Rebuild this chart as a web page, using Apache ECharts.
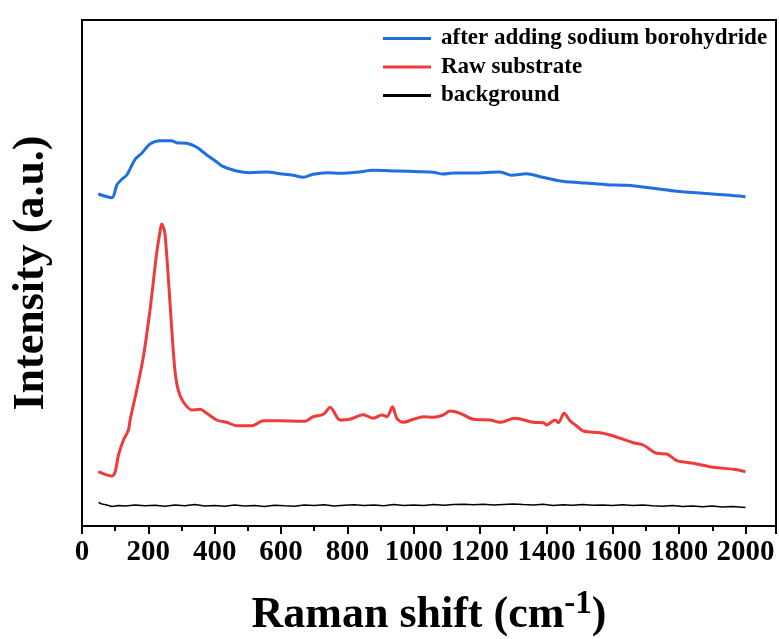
<!DOCTYPE html>
<html><head><meta charset="utf-8">
<script src="https://cdn.jsdelivr.net/npm/echarts@6/dist/echarts.min.js"></script>
<style>html,body{margin:0;padding:0;background:#fff}#c{width:779px;height:639px}</style>
</head><body><div id="c"></div>
<script>
// Raman shift (cm-1) and intensity (a.u.) pairs
const seriesNames = ['after adding sodium borohydride', 'Raw substrate', 'background'];
const xTicks = [0, 200, 400, 600, 800, 1000, 1200, 1400, 1600, 1800, 2000];

const blueX = [49,90,105,120,135,160,180,205,235,270,285,316,346,376,401,426,466,506,557,597,637,667,697,738,778,828,878,949,1019,1059,1089,1119,1180,1260,1295,1340,1381,1441,1501,1582,1642,1722,1793,1873,1944,2000];
const blueY = [332,328.3,341,346.7,351,366.7,372.7,382,385.3,385.3,383.3,382.7,378.7,371,365.3,359.3,355,353.3,354,352.3,350.7,348.7,351.7,353.3,352.7,353.7,355.7,355,354.3,353.7,352,353,353,354,350.7,352.3,349.3,345,343.3,341.3,340.7,337.7,334.7,332.7,331,329.3];

const redX = [49,90,100,110,125,140,145,165,185,205,225,235,240,245,250,260,270,280,290,305,331,356,376,406,436,466,512,547,597,672,697,728,748,778,808,848,878,904,919,936,949,969,999,1029,1059,1089,1109,1140,1180,1230,1260,1305,1361,1391,1401,1426,1436,1453,1471,1491,1511,1562,1592,1632,1662,1692,1732,1763,1793,1843,1903,1964,2000];
const redY = [54.3,50,54.3,71,86,96,106,136,169.3,216,272.7,294,302,299,292.7,249.3,199.3,156,136,124.3,116,116.7,112.7,106,103.7,100.3,100.3,105.3,105.3,104.7,109.3,111.7,118.7,106,106.7,111.3,107.7,111,109.3,119.3,107.7,103.7,106.7,109.3,108.7,111,115,112.7,106.7,106,103.7,107.7,103.7,103.3,101,106,103.3,112.7,105.3,100,95,93.3,91,86.7,83.3,81,72.7,72,65.3,62.7,58.7,56.7,54.3];

const blackX = [50,60,75,90,110,130,160,190,220,250,280,310,340,370,400,430,460,490,520,550,580,610,640,670,700,730,760,790,820,850,880,910,940,970,1000,1030,1060,1090,1120,1150,1180,1210,1240,1270,1300,1330,1360,1390,1420,1450,1480,1510,1540,1570,1600,1630,1660,1690,1720,1750,1780,1810,1840,1870,1900,1930,1960,1990,2000];
const blackY = [23.5,22,21,19.5,20.5,20,21,20.2,20.8,19.8,21,20.3,21.5,20,20.6,19.7,20.9,20.1,20.5,19.6,20.7,20.2,19.8,20.9,20.4,21.3,20.1,20.8,21.2,20.4,21,20.3,21.6,20.5,21.1,20.6,21.4,20.8,21.5,21.8,21.2,21.7,21,21.6,22,21.4,21.1,21.7,20.6,21.3,20.7,21.4,20.8,21,20.4,21.2,20.5,20.9,20.2,19.8,20.6,19.5,20.1,19.3,19.9,19,19.4,18.8,18.5];

const zip = (xs, ys) => xs.map((x, i) => [x, ys[i]]);
const FONT = '"Liberation Serif","Times New Roman",serif';

const chart = echarts.init(document.getElementById('c'), null, {renderer: 'canvas'});
chart.setOption({
  animation: false,
  backgroundColor: '#fff',
  grid: {left: 82, top: 20, right: 3, bottom: 113, show: true, borderColor: '#000', borderWidth: 2, backgroundColor: 'transparent', containLabel: false, outerBoundsMode: 'none'},
  legend: {
    orient: 'vertical', left: 383, top: 27, padding: 0, itemGap: 5.5, itemWidth: 48, itemHeight: 3, icon: 'rect',
    textStyle: {fontFamily: FONT, fontWeight: 'bold', fontSize: 23, color: '#000', lineHeight: 23, padding: [0, 0, 0, 5]},
    data: seriesNames
  },
  xAxis: {
    type: 'value', min: 0, max: 2092, interval: 200,
    axisLine: {show: true, onZero: false, lineStyle: {color: '#000', width: 2}},
    axisTick: {show: true, inside: false, length: 8, lineStyle: {color: '#000', width: 2}},
    minorTick: {show: true, splitNumber: 2, length: 5, lineStyle: {color: '#000', width: 2}},
    splitLine: {show: false},
    axisLabel: {fontFamily: FONT, fontWeight: 'bold', fontSize: 29, color: '#000', margin: 12, showMaxLabel: false,
      formatter: v => (xTicks.indexOf(v) >= 0 ? String(v) : '')},
    name: '{a|Raman shift (cm}{s|-1}{a|)}', nameLocation: 'middle', nameGap: 62,
    nameTextStyle: {rich: {
      a: {fontFamily: FONT, fontWeight: 'bold', fontSize: 44, color: '#000', verticalAlign: 'bottom', lineHeight: 50},
      s: {fontFamily: FONT, fontWeight: 'bold', fontSize: 33, color: '#000', verticalAlign: 'top', lineHeight: 50}
    }}
  },
  yAxis: {
    type: 'value', min: 0, max: 506,
    axisLine: {show: true, lineStyle: {color: '#000', width: 2}},
    axisTick: {show: false}, axisLabel: {show: false}, splitLine: {show: false},
    name: 'Intensity (a.u.)', nameLocation: 'middle', nameGap: 28,
    nameTextStyle: {fontFamily: FONT, fontWeight: 'bold', fontSize: 44, color: '#000'}
  },
  series: [
    {name: seriesNames[0], type: 'line', data: zip(blueX, blueY), showSymbol: false, smooth: 0.3, color: '#1f6fe0', lineStyle: {width: 3, color: '#1f6fe0'}},
    {name: seriesNames[1], type: 'line', data: zip(redX, redY), showSymbol: false, smooth: 0.3, color: '#ef3b3b', lineStyle: {width: 3, color: '#ef3b3b'}},
    {name: seriesNames[2], type: 'line', data: zip(blackX, blackY), showSymbol: false, color: '#000', lineStyle: {width: 1.5, color: '#000'}}
  ]
});
</script></body></html>
